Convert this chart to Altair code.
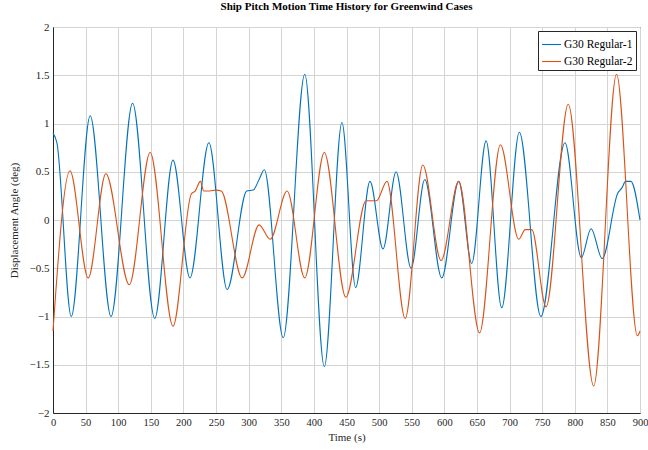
import altair as alt
import pandas as pd

# G30 Regular-1: time (s) and pitch angle (deg) at turning points and shoulders
t1 = [0, 6, 28, 57, 89, 122, 156, 184, 210, 239, 267, 297, 307, 316, 324,
      353, 386, 416, 443, 464, 486, 506, 526, 549, 570, 596, 622, 642,
      664, 688, 715, 748, 785, 810, 825, 842, 866, 872, 878, 886, 900]
v1 = [0.9, 0.8, -1.0, 1.08, -1.0, 1.21, -1.02, 0.62, -0.6, 0.8, -0.72, 0.3, 0.31, 0.42, 0.52,
      -1.22, 1.51, -1.52, 1.01, -0.7, 0.4, -0.3, 0.5, -0.5, 0.42, -0.6, 0.4, -0.45,
      0.82, -0.91, 0.91, -1.0, 0.8, -0.39, -0.09, -0.4, 0.28, 0.33, 0.4, 0.4, 0.0]

# G30 Regular-2
t2 = [0, 26, 54, 81, 117, 149, 184, 212, 218, 226, 231, 240, 250, 258,
      290, 316, 333, 359, 386, 416, 449, 480, 496, 512, 540, 567, 595,
      622, 654, 686, 714, 724, 734, 756, 790, 829, 864, 896, 900]
v2 = [-1.15, 0.51, -0.6, 0.48, -0.67, 0.7, -1.1, 0.27, 0.3, 0.4, 0.3, 0.3, 0.31, 0.3,
      -0.6, -0.05, -0.2, 0.3, -0.6, 0.7, -0.8, 0.2, 0.2, 0.4, -1.02, 0.57, -0.42,
      0.4, -1.17, 0.78, -0.2, -0.1, -0.1, -0.9, 1.2, -1.72, 1.51, -1.2, -1.15]

series_names = ["G30 Regular-1", "G30 Regular-2"]
series_colors = ["#0072BD", "#D95319"]

x_ticks = list(range(0, 901, 50))
y_ticks = [-2, -1.5, -1, -0.5, 0, 0.5, 1, 1.5, 2]

df = pd.concat([
    pd.DataFrame({"time": t1, "angle": v1, "case": series_names[0]}),
    pd.DataFrame({"time": t2, "angle": v2, "case": series_names[1]}),
])

FONT = "Liberation Serif"

chart = alt.Chart(df).mark_line(interpolate="monotone", strokeWidth=1.1).encode(
    x=alt.X("time:Q", title="Time (s)",
            scale=alt.Scale(domain=[0, 900], nice=False, zero=False),
            axis=alt.Axis(values=x_ticks, format="d", labelFlush=False,
                          labelFontSize=10.5)),
    y=alt.Y("angle:Q", title="Displacement Angle (deg)",
            scale=alt.Scale(domain=[-2, 2], nice=False),
            axis=alt.Axis(values=y_ticks, format="~g")),
    color=alt.Color("case:N", title=None,
                    scale=alt.Scale(domain=series_names, range=series_colors),
                    legend=alt.Legend(orient="top-right", offset=4)),
    order=alt.Order("time:Q"),
).properties(
    width=587,
    height=386,
    title=alt.TitleParams("Ship Pitch Motion Time History for Greenwind Cases",
                          font=FONT, fontSize=11, fontWeight="bold",
                          color="#000000", offset=9, anchor="middle"),
    autosize=alt.AutoSizeParams(type="none"),
    padding={"left": 53, "top": 27, "right": 8, "bottom": 37},
).configure_view(
    stroke="#262626", strokeWidth=1
).configure_axis(
    labelFont=FONT, titleFont=FONT, labelFontSize=11, titleFontSize=11,
    titleFontWeight="normal", labelColor="#262626", titleColor="#262626",
    grid=True, gridColor="#d4d4d4", gridWidth=1,
    domainColor="#262626", domainWidth=1, ticks=False, labelPadding=4,
).configure_axisX(
    titlePadding=4
).configure_axisY(
    titlePadding=10
).configure_legend(
    labelFont=FONT, labelFontSize=11.5, labelColor="#000000",
    symbolType="stroke", symbolSize=360, symbolStrokeWidth=1.1,
    strokeColor="#262626", fillColor="#ffffff", padding=3, rowPadding=1,
    labelOffset=2, cornerRadius=0,
)

chart.save("out.html", embed_options={"renderer": "svg", "actions": False})
